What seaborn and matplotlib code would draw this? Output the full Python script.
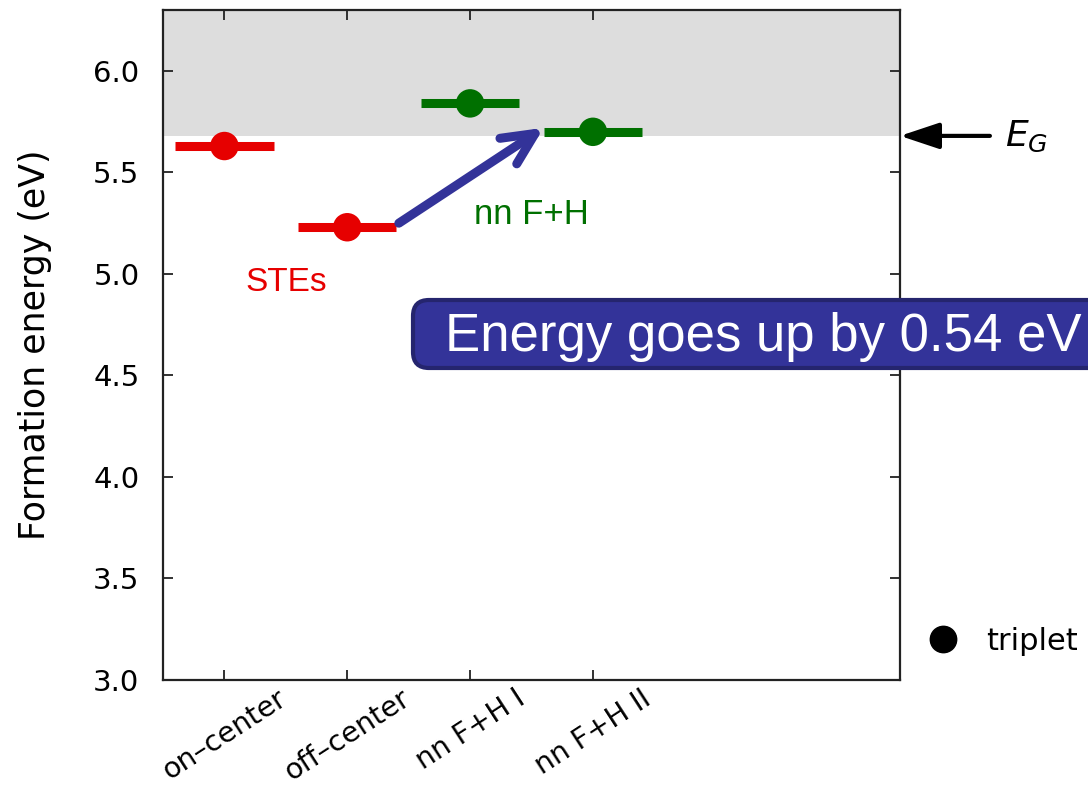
import matplotlib
matplotlib.use("Agg")
import matplotlib.pyplot as plt
from matplotlib.lines import Line2D
from matplotlib.patches import FancyBboxPatch
import numpy as np
import pandas as pd
import seaborn as sns

# Configurations and their formation energies (eV)
categories = ["on\u2013center", "off\u2013center", "nn F+H I", "nn F+H II"]
energies = [5.63, 5.23, 5.84, 5.70]
groups = ["STE", "STE", "nn F+H", "nn F+H"]
band_gap = 5.68
y_ticks = [3.0, 3.5, 4.0, 4.5, 5.0, 5.5, 6.0]

red = "#e60000"
green = "#007000"
navy = "#333399"

sns.set_theme(style="ticks")
plt.rcParams["font.family"] = ["DejaVu Sans"]
plt.rcParams["mathtext.fontset"] = "dejavusans"
plt.rcParams["text.color"] = "black"
plt.rcParams["xtick.color"] = "black"
plt.rcParams["ytick.color"] = "black"
plt.rcParams["axes.labelcolor"] = "black"

positions = np.arange(1, len(categories) + 1)
df = pd.DataFrame({"pos": positions, "energy": energies, "group": groups})

fig = plt.figure(figsize=(10.88, 7.85), dpi=100)
ax = fig.add_axes([163 / 1088, 1 - 680 / 785, 737 / 1088, 670 / 785])

ax.set_xlim(0.5, 6.5)
ax.set_ylim(3.0, 6.30)

# Region above the band gap
ax.axhspan(band_gap, 6.30, color="#dddddd", zorder=0, lw=0)

# Horizontal level bars
palette = {"STE": red, "nn F+H": green}
for p, e, g in zip(positions, energies, groups):
    ax.hlines(e, p - 0.4, p + 0.4, color=palette[g], lw=6.5, zorder=2)

sns.scatterplot(data=df, x="pos", y="energy", hue="group", palette=palette,
                s=420, linewidth=0, legend=False, ax=ax, zorder=3)

ax.set_xticks(positions)
ax.set_xticklabels(categories, rotation=33, ha="center", va="top",
                   fontsize=20.5)
ax.set_yticks(y_ticks)
ax.set_yticklabels([f"{v:.1f}" for v in y_ticks], fontsize=21)
ax.tick_params(axis="both", direction="in", length=7, width=1.3,
               color="#222222", top=True, right=True)
ax.tick_params(axis="y", pad=17)
ax.tick_params(axis="x", pad=3)
for s in ax.spines.values():
    s.set_color("#222222")
    s.set_linewidth(1.6)
    s.set_visible(True)

ax.set_xlabel("")
ax.set_ylabel("Formation energy (eV)", fontsize=25)
ax.yaxis.set_label_coords(-0.151, 0.5)

# Group labels
ax.text(1.5, 4.96, "STEs", color=red, fontsize=24, ha="center", va="center",
        family=["Liberation Sans", "DejaVu Sans"])
ax.text(3.5, 5.294, "nn F+H", color=green, fontsize=25, ha="center",
        va="center", family=["Liberation Sans", "DejaVu Sans"])

# Transition arrow
ax.annotate("", xy=(3.6, 5.72), xytext=(2.42, 5.25),
            arrowprops=dict(arrowstyle="->,head_length=1.15,head_width=0.55",
                            lw=6.5, color=navy, shrinkA=0, shrinkB=0,
                            mutation_scale=20, capstyle="round",
                            joinstyle="round"),
            zorder=4)

# Band gap marker
ax.annotate("", xy=(1.0, band_gap), xycoords=("axes fraction", "data"),
            xytext=(1.122, band_gap), textcoords=("axes fraction", "data"),
            arrowprops=dict(arrowstyle="-|>,head_length=1.2,head_width=0.4",
                            lw=3, color="black", shrinkA=0, shrinkB=0,
                            mutation_scale=20),
            annotation_clip=False)
ax.text(1.143, band_gap, r"$E_G$", transform=ax.get_yaxis_transform(),
        fontsize=26, ha="left", va="center")

# Legend
handle = Line2D([], [], marker="o", color="black", linestyle="none",
                markersize=19)
fig.legend(handles=[handle], labels=["triplet"], loc="center left",
           bbox_to_anchor=(928 / 1088, 1 - 641 / 785), frameon=False,
           fontsize=22, handlelength=1.0, handletextpad=0.9, borderpad=0,
           borderaxespad=0)

# Callout box
box = FancyBboxPatch((413, 785 - 368), 720, 68,
                     boxstyle="round,pad=0,rounding_size=16",
                     transform=None, facecolor=navy, edgecolor="#25256e",
                     linewidth=3, zorder=10)
fig.patches.append(box)
fig.text(445 / 1088, 1 - 337 / 785, "Energy goes up by 0.54 eV",
         color="white", fontsize=38, ha="left", va="center",
         family=["Liberation Sans", "DejaVu Sans"], zorder=11)

fig.savefig("out.png", dpi=100)
